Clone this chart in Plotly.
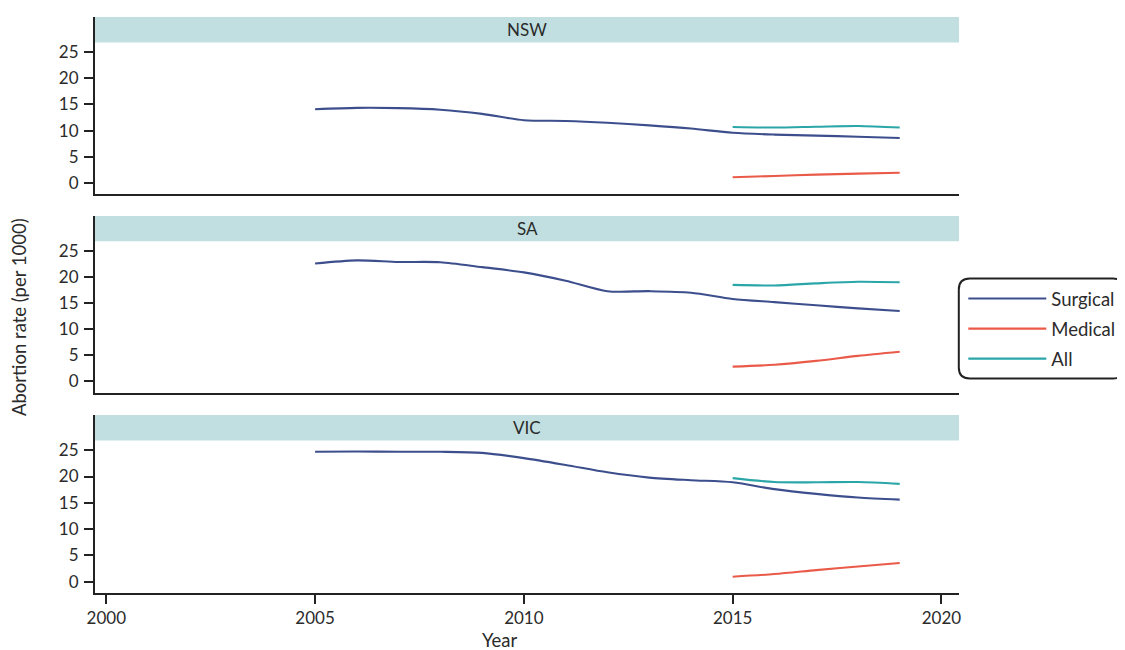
import plotly.graph_objects as go
from plotly.subplots import make_subplots

# ---------------- data ----------------
states = ["NSW", "SA", "VIC"]
years_surgical = [2005, 2006, 2007, 2008, 2009, 2010, 2011, 2012, 2013, 2014, 2015, 2016, 2017, 2018, 2019]
years_recent = [2015, 2016, 2017, 2018, 2019]

nsw_surgical = [14.1, 14.35, 14.3, 14.0, 13.2, 12.0, 11.85, 11.5, 11.0, 10.4, 9.6, 9.25, 9.05, 8.85, 8.6]
nsw_medical = [1.1, 1.35, 1.6, 1.8, 1.95]
nsw_all = [10.7, 10.6, 10.75, 10.9, 10.6]

sa_surgical = [22.6, 23.2, 22.9, 22.85, 21.9, 20.9, 19.3, 17.3, 17.3, 17.0, 15.8, 15.2, 14.6, 14.0, 13.5]
sa_medical = [2.85, 3.2, 3.95, 4.9, 5.7]
sa_all = [18.5, 18.4, 18.8, 19.1, 19.0]

vic_surgical = [24.7, 24.75, 24.7, 24.7, 24.5, 23.5, 22.2, 20.8, 19.8, 19.3, 18.9, 17.6, 16.7, 16.0, 15.6]
vic_medical = [0.95, 1.45, 2.2, 2.9, 3.55]
vic_all = [19.7, 18.95, 18.9, 18.95, 18.6]

x_ticks = [2000, 2005, 2010, 2015, 2020]
y_ticks = [0, 5, 10, 15, 20, 25]

series_names = ["Surgical", "Medical", "All"]
colors = {"Surgical": "#3d4e8d", "Medical": "#ea5a49", "All": "#2ba6a8"}

panel_data = {
    "NSW": {"Surgical": (years_surgical, nsw_surgical), "Medical": (years_recent, nsw_medical), "All": (years_recent, nsw_all)},
    "SA": {"Surgical": (years_surgical, sa_surgical), "Medical": (years_recent, sa_medical), "All": (years_recent, sa_all)},
    "VIC": {"Surgical": (years_surgical, vic_surgical), "Medical": (years_recent, vic_medical), "All": (years_recent, vic_all)},
}

# ---------------- layout geometry ----------------
# page coordinates (window 1125x650); the html body has an 8px default margin
OFF = 8
W, H = 1125 - OFF, 650 - OFF
PL, PR, PT, PB = 95, 958.7, 17, 593          # plot area in page pixels
ML, MT = PL - OFF, PT - OFF
MR, MB = W - (PR - OFF), H - (PB - OFF)
PW, PH = PR - PL, PB - PT
FONT = "Lato, 'Open Sans', sans-serif"
TXT = "#2b2b2b"
AX = "#222222"

def py(px):
    return (PB - px) / PH

def pxx(px):
    return (px - PL) / PW

domains = [[py(194.3), 1.0], [py(392.7), py(216)], [0.0, py(415)]]

fig = make_subplots(rows=3, cols=1, shared_xaxes=True, vertical_spacing=0.04)

for r, st in enumerate(states, start=1):
    for name in series_names:
        xs, ys = panel_data[st][name]
        fig.add_trace(
            go.Scatter(
                x=xs, y=ys, mode="lines", name=name,
                line=dict(color=colors[name], width=2.1, shape="spline", smoothing=0.8),
                legendgroup=name, showlegend=(r == 1),
                hoverinfo="skip",
            ),
            row=r, col=1,
        )

xrange = [1999.73, 2020.42]
yrange = [-2.15, 31.7]

for r in range(1, 4):
    xa = "xaxis" if r == 1 else f"xaxis{r}"
    ya = "yaxis" if r == 1 else f"yaxis{r}"
    last = r == 3
    fig.layout[xa].update(
        domain=[0, 1], range=xrange, showgrid=False, zeroline=False,
        showline=True, linecolor=AX, linewidth=2,
        ticks="outside" if last else "", ticklen=9, tickwidth=2, tickcolor=AX,
        tickvals=x_ticks, showticklabels=last,
        tickfont=dict(family=FONT, size=17, color=TXT),
    )
    fig.layout[ya].update(
        domain=domains[r - 1], range=yrange, showgrid=False, zeroline=False,
        showline=True, linecolor=AX, linewidth=2,
        ticks="outside", ticklen=9, tickwidth=2, tickcolor=AX,
        tickvals=y_ticks, ticklabelstandoff=2,
        tickfont=dict(family=FONT, size=17, color=TXT),
    )

shapes = []
annotations = []
strip_h = 25.4 / 177.0
for r, st in enumerate(states, start=1):
    xr = "x" if r == 1 else f"x{r}"
    yr = "y" if r == 1 else f"y{r}"
    shapes.append(dict(
        type="rect", xref=f"{xr} domain", yref=f"{yr} domain",
        x0=0.0, x1=1.0, y0=1 - strip_h, y1=1.0,
        fillcolor="#c1dfe0", line=dict(width=0), layer="below",
    ))
    annotations.append(dict(
        text=st, xref=f"{xr} domain", yref=f"{yr} domain",
        x=0.5, y=1 - strip_h / 2, xanchor="center", yanchor="middle",
        showarrow=False, font=dict(family=FONT, size=17, color=TXT),
    ))

# axis titles
annotations.append(dict(
    text="Abortion rate (per 1000)", xref="paper", yref="paper",
    x=pxx(19), y=py(317), xanchor="center", yanchor="middle", textangle=-90,
    showarrow=False, font=dict(family=FONT, size=18.5, color=TXT),
))
annotations.append(dict(
    text="Year", xref="paper", yref="paper",
    x=pxx(499), y=py(640), xanchor="center", yanchor="middle",
    showarrow=False, font=dict(family=FONT, size=18.5, color=TXT),
))

# rounded legend border
x0p, x1p, y0p, y1p, rad = 958.5, 1123.5, 278.5, 378.5, 11
def P(xp, yp):
    return f"{pxx(xp):.5f},{py(yp):.5f}"
path = (
    f"M {P(x0p + rad, y0p)} L {P(x1p - rad, y0p)} Q {P(x1p, y0p)} {P(x1p, y0p + rad)} "
    f"L {P(x1p, y1p - rad)} Q {P(x1p, y1p)} {P(x1p - rad, y1p)} L {P(x0p + rad, y1p)} "
    f"Q {P(x0p, y1p)} {P(x0p, y1p - rad)} L {P(x0p, y0p + rad)} Q {P(x0p, y0p)} {P(x0p + rad, y0p)} Z"
)
shapes.append(dict(type="path", xref="paper", yref="paper", path=path,
                   line=dict(color=AX, width=2), fillcolor="rgba(0,0,0,0)"))

fig.update_layout(
    width=W, height=H,
    margin=dict(l=ML, r=MR, t=MT, b=MB, autoexpand=False),
    paper_bgcolor="white", plot_bgcolor="white",
    font=dict(family=FONT, size=16, color=TXT),
    shapes=shapes, annotations=annotations,
    showlegend=True,
    legend=dict(
        x=pxx(963), y=py(329), xanchor="left", yanchor="middle",
        bgcolor="rgba(0,0,0,0)", borderwidth=0,
        font=dict(family=FONT, size=18.5, color=TXT),
        itemwidth=78, tracegroupgap=3, traceorder="grouped",
    ),
)

fig.write_html("out.html")
